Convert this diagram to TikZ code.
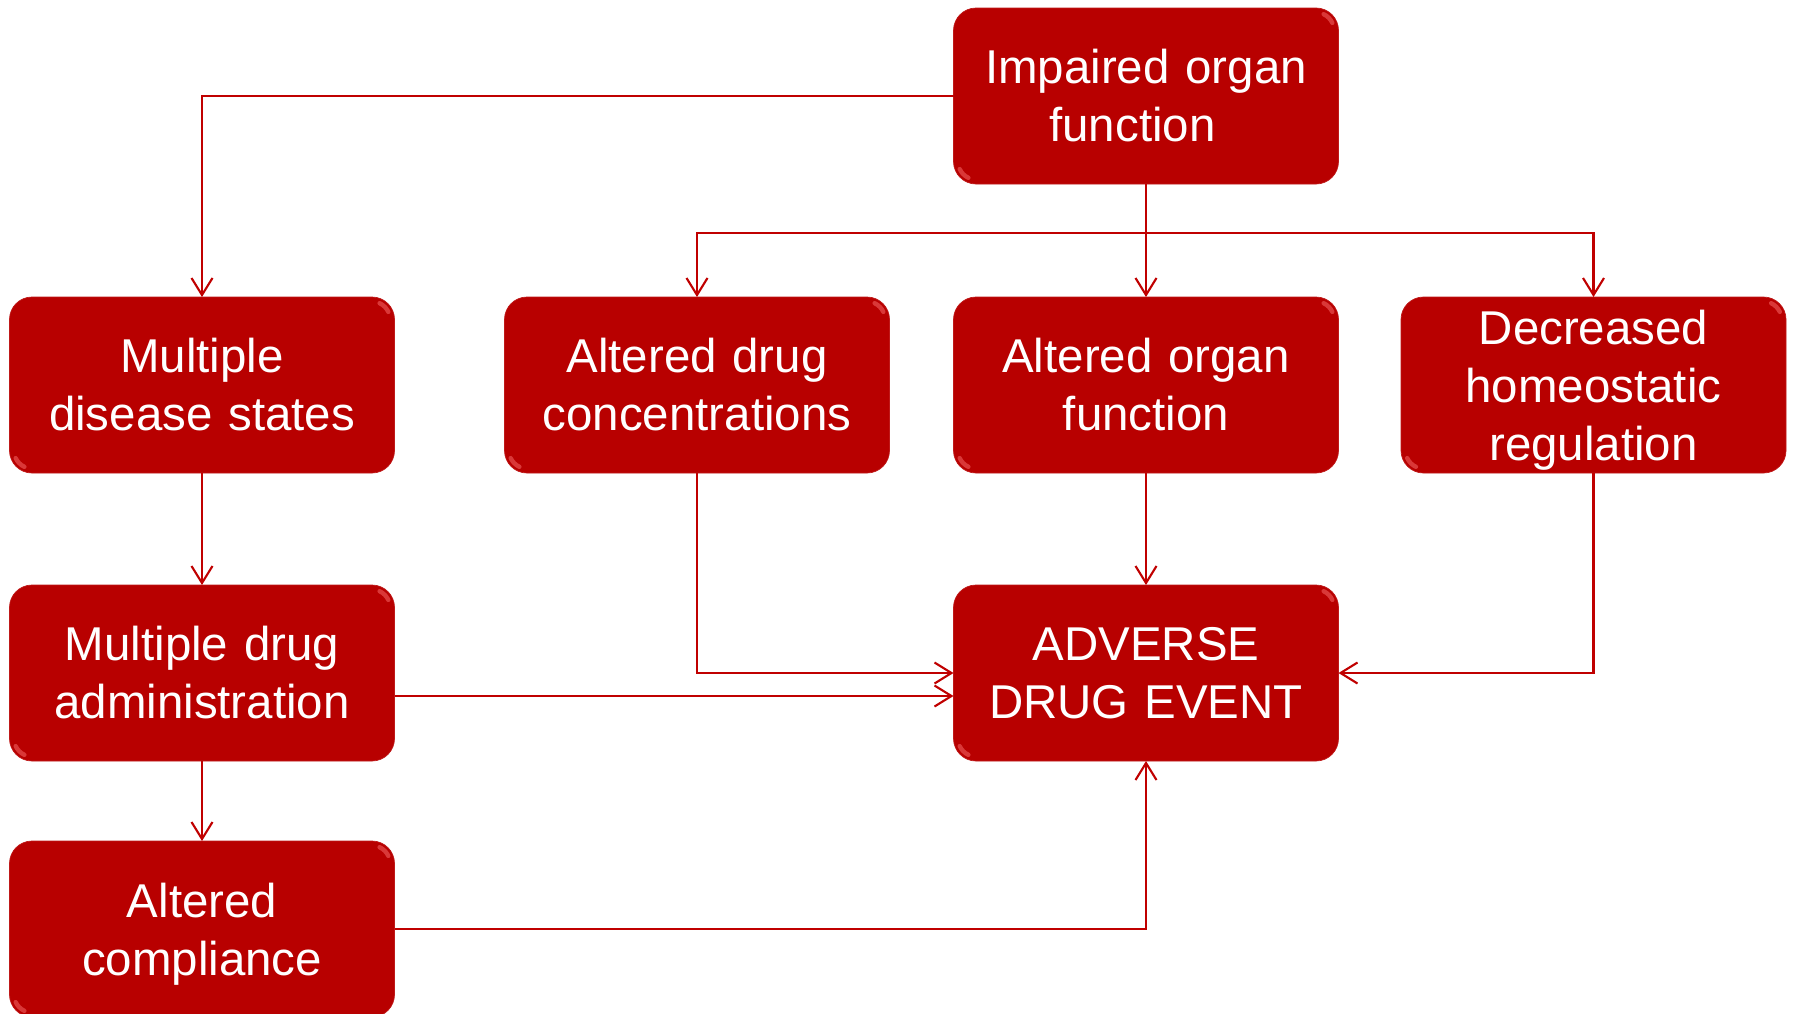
\documentclass[tikz,border=0pt]{standalone}
\usepackage{fontspec}
\setmainfont{Liberation Sans}
\usepackage{tikz}
\usetikzlibrary{arrows.meta,positioning}
\definecolor{boxred}{HTML}{B80000}
\definecolor{linkred}{HTML}{C00000}
\definecolor{glossred}{HTML}{E85050}
\tikzset{
  every node/.style={
    font=\fontsize{27}{33}\selectfont
  },
  cause/.style={
    shape=rectangle,
    rounded corners=0.45cm,
    minimum width=7.7cm,
    minimum height=3.52cm,
    text width=7.3cm,
    inner sep=0pt,
    outer sep=0pt,
    align=center,
    fill=boxred,
    draw=boxred!90!white,
    text=white,
    path picture={
      \draw [glossred, line width=2.5pt, line cap=round, opacity=0.7]
        ([shift={(-0.45,-0.45)}]path picture bounding box.north east)
          ++(25:0.36) arc (25:65:0.36);
      \draw [glossred, line width=2.5pt, line cap=round, opacity=0.7]
        ([shift={(0.45,0.45)}]path picture bounding box.south west)
          ++(205:0.36) arc (205:245:0.36);
    }
  },
  link/.style={
    draw=linkred,
    line width=1.2pt,
    -{Straight Barb[length=0.34cm,width=0.42cm]}
  }
}

\begin{document}
\begin{tikzpicture}
    \useasboundingbox (0,0) rectangle (35.86,-20.26);
    % left column
    \node [cause] (disease) at (4.04,-7.7) { Multiple\\disease states };
    \node [cause, below=2.24cm of disease] (drugs) { Multiple drug\\administration };
    \node [cause, below=1.6cm of drugs] (compliance) { Altered\\\smash{compliance} };
    % second row
    \node [cause, right=2.2cm of disease] (conc) { Altered drug\\concentrations };
    \node [cause, right=1.28cm of conc] (organ) { Altered organ\\function };
    \node [cause, right=1.25cm of organ] (homeo) { Decreased\\homeostatic\\\smash{regulation} };
    \node [cause, above=2.26cm of organ] (impaired) { Impaired organ\\function\hspace*{0.54cm} };
    \node [cause, below=2.24cm of organ] (ade) { ADVERSE\\DRUG EVENT };
    % connectors
    \draw [link] (impaired.west) -| (disease.north);
    \draw [link] (impaired.south) -- (organ.north);
    \path (impaired.south) -- ++(0,-0.98) coordinate (split);
    \draw [link] (split) -| (conc.north);
    \draw [link] (split) -| (homeo.north);
    \draw [link] (disease) -- (drugs);
    \draw [link] (drugs) -- (compliance);
    \draw [link] (conc.south) |- (ade.west);
    \draw [link] ([yshift=-0.46cm]drugs.east) -- ([yshift=-0.46cm]ade.west);
    \draw [link] (organ) -- (ade);
    \draw [link] (homeo.south) |- (ade.east);
    \draw [link] (compliance.east) -| (ade.south);
\end{tikzpicture}
\end{document}
